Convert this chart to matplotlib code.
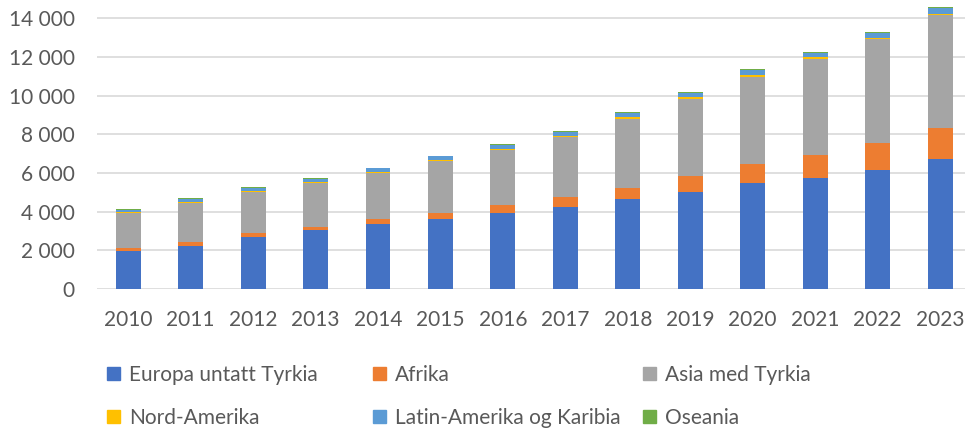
import numpy as np
import matplotlib.pyplot as plt
from matplotlib.patches import Patch
from matplotlib.ticker import FuncFormatter

plt.rcParams['font.family'] = ['Lato', 'DejaVu Sans']

# Data
years = ['2010', '2011', '2012', '2013', '2014', '2015', '2016',
         '2017', '2018', '2019', '2020', '2021', '2022', '2023']
europa = [1980, 2240, 2700, 3030, 3360, 3640, 3910, 4220, 4640, 5020, 5500, 5760, 6150, 6740]
afrika = [120, 190, 180, 170, 240, 310, 450, 540, 600, 810, 980, 1170, 1380, 1600]
asia = [1850, 2020, 2140, 2280, 2400, 2670, 2840, 3120, 3570, 3990, 4500, 4950, 5380, 5810]
nord_amerika = [30, 30, 40, 40, 40, 40, 50, 60, 70, 90, 90, 100, 70, 80]
latin_amerika = [100, 160, 180, 180, 200, 200, 200, 170, 200, 210, 250, 210, 270, 300]
oseania = [40, 50, 30, 40, 30, 30, 50, 50, 60, 70, 70, 60, 70, 70]

series = [
    ('Europa untatt Tyrkia', europa, '#4472C4'),
    ('Afrika', afrika, '#ED7D31'),
    ('Asia med Tyrkia', asia, '#A5A5A5'),
    ('Nord-Amerika', nord_amerika, '#FFC000'),
    ('Latin-Amerika og Karibia', latin_amerika, '#5B9BD5'),
    ('Oseania', oseania, '#70AD47'),
]

text_color = '#595959'
fs = 15

fig = plt.figure(figsize=(9.65, 4.32), dpi=100)
ax = fig.add_axes([97 / 965, 143 / 432, 868 / 965, 289 / 432])

x = np.arange(len(years))
bottom = np.zeros(len(years))
for name, vals, color in series:
    ax.bar(x, vals, 0.4, bottom=bottom, color=color, label=name, zorder=3)
    bottom += np.array(vals)

ax.set_xlim(-0.5, 13.4)
ax.set_ylim(0, 14950)
ax.set_yticks(np.arange(0, 14001, 2000))
ax.yaxis.set_major_formatter(FuncFormatter(lambda v, p: f'{int(v):,}'.replace(',', ' ')))
ax.set_xticks(x)
ax.set_xticklabels(years)
ax.grid(axis='y', color='#D9D9D9', linewidth=1.2, zorder=0)
for s in ax.spines.values():
    s.set_visible(False)
ax.tick_params(axis='both', length=0, labelsize=fs, labelcolor=text_color)
ax.tick_params(axis='y', pad=16)
ax.tick_params(axis='x', pad=15)

# Legend in three columns placed like the original
cols = [(107, [0, 3]), (373, [1, 4]), (643, [2, 5])]
for xpos, idx in cols:
    handles = [Patch(color=series[i][2]) for i in idx]
    labels = [series[i][0] for i in idx]
    fig.legend(handles, labels, loc='upper left',
               bbox_to_anchor=(xpos / 965, 1 - 365 / 432),
               frameon=False, fontsize=fs, labelcolor=text_color,
               handlelength=0.6, handleheight=0.6, handletextpad=0.45,
               labelspacing=1.08, borderaxespad=0, borderpad=0)

fig.savefig('out.png', dpi=100)
